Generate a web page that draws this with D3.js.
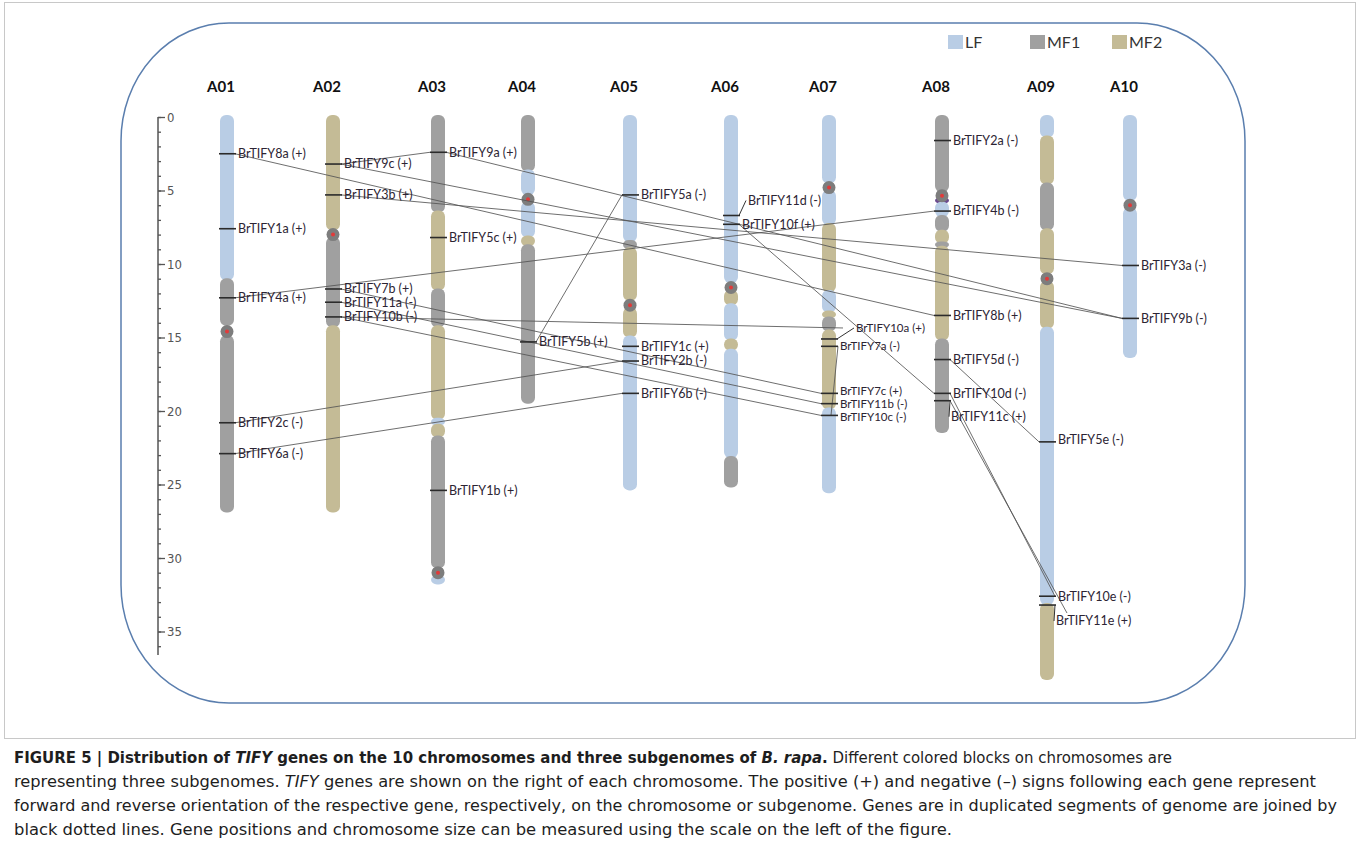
<!DOCTYPE html>
<html>
<head>
<meta charset="utf-8">
<script src="https://cdn.jsdelivr.net/npm/d3@7"></script>
<style>
  body { margin: 0; background: #fff; }
  svg { display: block; }
</style>
</head>
<body>
<svg id="chart" width="1360" height="848"></svg>
<script>
// Chromosome map of TIFY genes on B. rapa chromosomes

const chromosomes = ['A01', 'A02', 'A03', 'A04', 'A05', 'A06', 'A07', 'A08', 'A09', 'A10'];
const chromLength = [26.9, 26.9, 31.8, 19.5, 25.4, 25.2, 25.6, 21.5, 38.3, 16.4];
const centromeres = [14.6, 8.0, 31.0, 5.6, 12.8, 11.6, 4.8, 5.35, 11.0, 6.0];

// [chromosome, start, end, subgenome]
const segments = [
  ['A01', 0, 11.1, 'LF'], ['A01', 11.1, 14.2, 'MF1'], ['A01', 15.0, 26.9, 'MF1'],
  ['A02', 0, 7.7, 'MF2'], ['A02', 8.3, 14.3, 'MF1'], ['A02', 14.3, 26.9, 'MF2'],
  ['A03', 0, 6.5, 'MF1'], ['A03', 6.5, 11.8, 'MF2'], ['A03', 11.8, 14.3, 'MF1'], ['A03', 14.3, 20.6, 'MF2'],
  ['A03', 20.6, 21.0, 'LF'], ['A03', 21.0, 21.8, 'MF2'], ['A03', 21.8, 30.7, 'MF1'], ['A03', 31.3, 31.8, 'LF'],
  ['A04', 0, 3.7, 'MF1'], ['A04', 3.7, 5.3, 'LF'], ['A04', 5.9, 8.2, 'LF'], ['A04', 8.2, 8.8, 'MF2'], ['A04', 8.8, 19.5, 'MF1'],
  ['A05', 0, 8.5, 'LF'], ['A05', 8.5, 9.0, 'MF1'], ['A05', 9.0, 12.5, 'MF2'], ['A05', 13.1, 15.0, 'MF2'], ['A05', 15.0, 25.4, 'LF'],
  ['A06', 0, 11.3, 'LF'], ['A06', 11.9, 12.8, 'MF2'], ['A06', 12.8, 15.2, 'LF'], ['A06', 15.2, 15.9, 'MF2'],
  ['A06', 15.9, 23.2, 'LF'], ['A06', 23.2, 25.2, 'MF1'],
  ['A07', 0, 4.5, 'LF'], ['A07', 5.1, 7.35, 'LF'], ['A07', 7.35, 11.9, 'MF2'], ['A07', 11.9, 13.3, 'LF'],
  ['A07', 13.3, 13.7, 'MF2'], ['A07', 13.7, 14.6, 'MF1'], ['A07', 14.6, 19.9, 'MF2'], ['A07', 19.9, 25.6, 'LF'],
  ['A08', 0, 5.1, 'MF1'], ['A08', 5.6, 5.9, 'X'], ['A08', 5.9, 6.8, 'LF'], ['A08', 6.8, 7.8, 'MF1'],
  ['A08', 7.8, 8.6, 'MF2'], ['A08', 8.6, 8.9, 'MF1'], ['A08', 8.9, 15.2, 'MF2'], ['A08', 15.2, 21.5, 'MF1'],
  ['A09', 0, 1.4, 'LF'], ['A09', 1.4, 4.6, 'MF2'], ['A09', 4.6, 7.7, 'MF1'], ['A09', 7.7, 10.7, 'MF2'],
  ['A09', 11.3, 14.4, 'MF2'], ['A09', 14.4, 33.2, 'LF'], ['A09', 33.2, 38.3, 'MF2'],
  ['A10', 0, 5.7, 'LF'], ['A10', 6.3, 16.4, 'LF']
];

// [gene, chromosome, position (Mb), strand]
const genes = [
  ['BrTIFY8a', 'A01', 2.5, '+'], ['BrTIFY1a', 'A01', 7.6, '+'], ['BrTIFY4a', 'A01', 12.3, '+'],
  ['BrTIFY2c', 'A01', 20.8, '-'], ['BrTIFY6a', 'A01', 22.9, '-'],
  ['BrTIFY9c', 'A02', 3.2, '+'], ['BrTIFY3b', 'A02', 5.3, '+'], ['BrTIFY7b', 'A02', 11.7, '+'],
  ['BrTIFY11a', 'A02', 12.6, '-'], ['BrTIFY10b', 'A02', 13.6, '-'],
  ['BrTIFY9a', 'A03', 2.4, '+'], ['BrTIFY5c', 'A03', 8.2, '+'], ['BrTIFY1b', 'A03', 25.4, '+'],
  ['BrTIFY5b', 'A04', 15.3, '+'],
  ['BrTIFY5a', 'A05', 5.3, '-'], ['BrTIFY1c', 'A05', 15.6, '+'], ['BrTIFY2b', 'A05', 16.6, '-'], ['BrTIFY6b', 'A05', 18.8, '-'],
  ['BrTIFY11d', 'A06', 6.7, '-'], ['BrTIFY10f', 'A06', 7.3, '+'],
  ['BrTIFY10a', 'A07', 15.1, '+'], ['BrTIFY7a', 'A07', 15.6, '-'], ['BrTIFY7c', 'A07', 18.8, '+'],
  ['BrTIFY11b', 'A07', 19.5, '-'], ['BrTIFY10c', 'A07', 20.3, '-'],
  ['BrTIFY2a', 'A08', 1.6, '-'], ['BrTIFY4b', 'A08', 6.4, '-'], ['BrTIFY8b', 'A08', 13.5, '+'],
  ['BrTIFY5d', 'A08', 16.5, '-'], ['BrTIFY10d', 'A08', 18.8, '-'], ['BrTIFY11c', 'A08', 19.3, '+'],
  ['BrTIFY5e', 'A09', 22.1, '-'], ['BrTIFY10e', 'A09', 32.6, '-'], ['BrTIFY11e', 'A09', 33.2, '+'],
  ['BrTIFY3a', 'A10', 10.1, '-'], ['BrTIFY9b', 'A10', 13.7, '-']
];

// duplicated gene pairs
const links = [
  ['BrTIFY9c', 'BrTIFY9a'], ['BrTIFY9a', 'BrTIFY9b'], ['BrTIFY9c', 'BrTIFY9b'],
  ['BrTIFY8a', 'BrTIFY8b'], ['BrTIFY3b', 'BrTIFY3a'], ['BrTIFY4a', 'BrTIFY4b'],
  ['BrTIFY2c', 'BrTIFY2b'], ['BrTIFY6a', 'BrTIFY6b'], ['BrTIFY5b', 'BrTIFY5a'],
  ['BrTIFY7b', 'BrTIFY7c'], ['BrTIFY11a', 'BrTIFY11b'], ['BrTIFY10b', 'BrTIFY10c'],
  ['BrTIFY10b', 'BrTIFY10a'], ['BrTIFY7a', 'BrTIFY10c'], ['BrTIFY10f', 'BrTIFY10d'],
  ['BrTIFY5d', 'BrTIFY5e'], ['BrTIFY10d', 'BrTIFY10e'], ['BrTIFY11c', 'BrTIFY11e']
];

const legendItems = ['LF', 'MF1', 'MF2'];
const majorTicks = [0, 5, 10, 15, 20, 25, 30, 35];
const minorTicks = d3.range(0, 37);

// ---- layout ----
const colX = d3.scaleOrdinal()
  .domain(chromosomes)
  .range([227, 333, 438, 528, 630, 731, 829, 942, 1047, 1130]);

const yScale = d3.scaleLinear().domain([0, 38]).range([117, 117 + 38 * 14.7]);

const color = d3.scaleOrdinal()
  .domain(['LF', 'MF1', 'MF2', 'X'])
  .range(['#b9cde5', '#a0a0a0', '#c4bb96', '#6b4a8e']);

// label offsets [dx, dy] in px for crowded genes
const labelNudge = {
  BrTIFY11d: [6, -15],
  BrTIFY10a: [16, -11],
  BrTIFY7c: [0, -2],
  BrTIFY10c: [0, 2],
  BrTIFY11c: [-2, 16],
  BrTIFY11e: [-2, 16],
  BrTIFY5e: [0, -2]
};
// lines that run to the label side instead of the chromosome edge
const anchorAtLabel = { BrTIFY10a: [14, -11], BrTIFY10e: [8, 0], BrTIFY11e: [20, 8] };

const chromW = 14;
const labelFont = 'Lato, "Open Sans", sans-serif';

const svg = d3.select('#chart');

// outer frame
svg.append('rect')
  .attr('x', 4.5).attr('y', 2.5)
  .attr('width', 1351).attr('height', 736)
  .attr('fill', 'none')
  .attr('stroke', '#c8c8c8')
  .attr('stroke-width', 1);

// rounded panel border
svg.append('rect')
  .attr('x', 121).attr('y', 23)
  .attr('width', 1124).attr('height', 680)
  .attr('rx', 108).attr('ry', 118)
  .attr('fill', 'none')
  .attr('stroke', '#5a7eae')
  .attr('stroke-width', 1.5);

// legend
const legend = svg.append('g');
const legendX = d3.scalePoint().domain(legendItems).range([948, 1112]);
legendItems.forEach(k => {
  legend.append('rect')
    .attr('x', legendX(k)).attr('y', 35)
    .attr('width', 15).attr('height', 14)
    .attr('fill', color(k));
  legend.append('text')
    .attr('x', legendX(k) + 17).attr('y', 48)
    .attr('font-family', labelFont)
    .attr('font-size', '16px')
    .attr('fill', '#333')
    .text(k);
});

// scale on the left
const axisX = 158;
const minorAxis = svg.append('g').attr('transform', `translate(${axisX},0)`)
  .call(d3.axisRight(yScale).tickValues(minorTicks).tickSize(3).tickSizeOuter(0).tickFormat(''));
minorAxis.select('.domain').attr('d', `M0,${yScale(0)}V${yScale(36.6)}`);

const majorAxis = svg.append('g').attr('transform', `translate(${axisX},0)`)
  .call(d3.axisRight(yScale).tickValues(majorTicks).tickSize(7).tickSizeOuter(0).tickPadding(2));
majorAxis.select('.domain').remove();

svg.selectAll('.tick line').attr('stroke', '#555').attr('stroke-width', 1.3);
minorAxis.select('.domain').attr('stroke', '#555').attr('stroke-width', 1.5);
majorAxis.selectAll('.tick text')
  .attr('fill', '#555')
  .attr('font-family', '"Liberation Sans Narrow", "DejaVu Sans Condensed", sans-serif')
  .attr('font-size', '13px');

// chromosome names
svg.append('g').selectAll('text')
  .data(chromosomes)
  .join('text')
  .attr('x', d => colX(d) - 6)
  .attr('y', 92)
  .attr('text-anchor', 'middle')
  .attr('font-family', labelFont)
  .attr('font-weight', 'bold')
  .attr('font-size', '15px')
  .attr('fill', '#111')
  .text(d => d);

// chromosome bodies
const body = svg.append('g');
body.selectAll('rect')
  .data(segments)
  .join('rect')
  .attr('x', d => colX(d[0]) - chromW / 2)
  .attr('y', d => yScale(d[1]) - 2)
  .attr('width', chromW)
  .attr('height', d => yScale(d[2]) - yScale(d[1]) + 2)
  .attr('rx', 6)
  .attr('fill', d => color(d[3]));

// centromeres
const cen = svg.append('g').selectAll('g')
  .data(chromosomes)
  .join('g')
  .attr('transform', (d, i) => `translate(${colX(d)},${yScale(centromeres[i])})`);
cen.append('circle').attr('r', 6.5).attr('fill', '#7d7d7d');
cen.append('circle').attr('r', 2).attr('fill', '#e23a3a');

const geneInfo = new Map(genes.map(g => [g[0], g]));

function anchor(name, side) {
  const g = geneInfo.get(name);
  const x = colX(g[1]);
  const y = yScale(g[2]);
  if (anchorAtLabel[name]) {
    const n = anchorAtLabel[name];
    return [x + n[0], y + n[1]];
  }
  return [x + (side === 'right' ? 8 : -8), y];
}

// duplication lines
const linkGroup = svg.append('g');
links.forEach(([a, b]) => {
  const ga = geneInfo.get(a), gb = geneInfo.get(b);
  let p1, p2;
  if (ga[1] === gb[1]) {
    const x = colX(ga[1]);
    p1 = [x + 9, yScale(ga[2])];
    p2 = [x + 2, yScale(gb[2])];
  } else if (colX(ga[1]) < colX(gb[1])) {
    p1 = anchor(a, 'right'); p2 = anchor(b, 'left');
  } else {
    p1 = anchor(a, 'left'); p2 = anchor(b, 'right');
  }
  linkGroup.append('line')
    .attr('x1', p1[0]).attr('y1', p1[1])
    .attr('x2', p2[0]).attr('y2', p2[1])
    .attr('stroke', '#555')
    .attr('stroke-width', 1)
    .attr('stroke-opacity', 0.85);
});

// gene markers and labels
const geneG = svg.append('g');
genes.forEach(([name, chr, pos, strand]) => {
  const x = colX(chr);
  const y = yScale(pos);
  const n = labelNudge[name] || [0, 0];
  geneG.append('line')
    .attr('x1', x - 8).attr('x2', x + 9)
    .attr('y1', y).attr('y2', y)
    .attr('stroke', '#2b2b2b')
    .attr('stroke-width', 1.6);
  if (Math.abs(n[0]) + Math.abs(n[1]) > 2) {
    geneG.append('line')
      .attr('x1', x + 8).attr('y1', y)
      .attr('x2', x + 9 + n[0]).attr('y2', y + n[1])
      .attr('stroke', '#333')
      .attr('stroke-width', 1);
  }
  geneG.append('text')
    .attr('x', x + 11 + n[0])
    .attr('y', y + n[1])
    .attr('dy', '0.35em')
    .attr('font-family', labelFont)
    .attr('font-size', chr === 'A07' ? '11.5px' : '12.5px')
    .attr('fill', '#2c2433')
    .text(`${name} (${strand})`);
});

// caption
const cap = svg.append('g')
  .attr('font-family', '"Liberation Sans Narrow", "DejaVu Sans Condensed", sans-serif')
  .attr('font-size', '15.5px')
  .attr('fill', '#1e1e1e');

const line1 = cap.append('text').attr('x', 14).attr('y', 763)
  .attr('textLength', 1158).attr('lengthAdjust', 'spacingAndGlyphs');
line1.append('tspan').attr('font-weight', 'bold').text('FIGURE 5 | Distribution of ');
line1.append('tspan').attr('font-weight', 'bold').attr('font-style', 'italic').text('TIFY');
line1.append('tspan').attr('font-weight', 'bold').text(' genes on the 10 chromosomes and three subgenomes of ');
line1.append('tspan').attr('font-weight', 'bold').attr('font-style', 'italic').text('B. rapa');
line1.append('tspan').attr('font-weight', 'bold').text('.');
line1.append('tspan').text(' Different colored blocks on chromosomes are');

const line2 = cap.append('text').attr('x', 14).attr('y', 787)
  .attr('textLength', 1302).attr('lengthAdjust', 'spacingAndGlyphs');
line2.append('tspan').text('representing three subgenomes. ');
line2.append('tspan').attr('font-style', 'italic').text('TIFY');
line2.append('tspan').text(' genes are shown on the right of each chromosome. The positive (+) and negative (\u2013) signs following each gene represent');

cap.append('text').attr('x', 14).attr('y', 811)
  .attr('textLength', 1323).attr('lengthAdjust', 'spacingAndGlyphs')
  .text('forward and reverse orientation of the respective gene, respectively, on the chromosome or subgenome. Genes are in duplicated segments of genome are joined by');

cap.append('text').attr('x', 14).attr('y', 835)
  .attr('textLength', 938).attr('lengthAdjust', 'spacingAndGlyphs')
  .text('black dotted lines. Gene positions and chromosome size can be measured using the scale on the left of the figure.');
</script>
</body>
</html>
